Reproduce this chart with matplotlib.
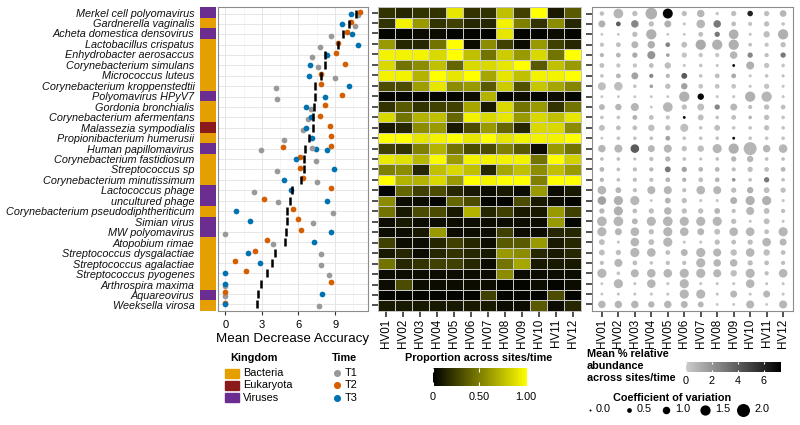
import numpy as np
import matplotlib
matplotlib.use('Agg')
import matplotlib.pyplot as plt
from matplotlib.colors import LinearSegmentedColormap, ListedColormap
from matplotlib.patches import Rectangle

plt.rcParams['font.family'] = ['Liberation Sans', 'DejaVu Sans']

# species ordered by importance (top to bottom)
species = ['Merkel cell polyomavirus', 'Gardnerella vaginalis', 'Acheta domestica densovirus',
           'Lactobacillus crispatus', 'Enhydrobacter aerosaccus', 'Corynebacterium simulans',
           'Micrococcus luteus', 'Corynebacterium kroppenstedtii', 'Polyomavirus HPyV7',
           'Gordonia bronchialis', 'Corynebacterium afermentans', 'Malassezia sympodialis',
           'Propionibacterium humerusii', 'Human papillomavirus', 'Corynebacterium fastidiosum',
           'Streptococcus sp', 'Corynebacterium minutissimum', 'Lactococcus phage',
           'uncultured phage', 'Corynebacterium pseudodiphtheriticum', 'Simian virus',
           'MW polyomavirus', 'Atopobium rimae', 'Streptococcus dysgalactiae',
           'Streptococcus agalactiae', 'Streptococcus pyogenes', 'Arthrospira maxima',
           'Aquareovirus', 'Weeksella virosa']
kingdom = ['Viruses', 'Bacteria', 'Viruses', 'Bacteria', 'Bacteria', 'Bacteria', 'Bacteria',
           'Bacteria', 'Viruses', 'Bacteria', 'Bacteria', 'Eukaryota', 'Bacteria', 'Viruses',
           'Bacteria', 'Bacteria', 'Bacteria', 'Viruses', 'Viruses', 'Bacteria', 'Viruses',
           'Viruses', 'Bacteria', 'Bacteria', 'Bacteria', 'Bacteria', 'Bacteria', 'Viruses',
           'Bacteria']

# mean decrease accuracy per time point
mda_t1 = [10.85, 10.6, 8.66, 7.76, 7.13, 7.62, 8.99, 4.13, 4.24, 7.0, 6.78, 6.34, 4.8, 2.95,
          7.46, 4.2, 7.55, 2.32, 4.32, 8.83, 7.16, 0.0, 3.91, 7.87, 7.87, 8.52, 0.0, 0.0, 7.7]
mda_t2 = [11.07, 10.3, 9.97, 9.2, 9.07, 9.84, 7.81, 7.81, 9.56, 8.14, 7.79, 8.55, 8.7, 4.7,
          6.15, 6.13, 6.37, 8.69, 3.14, 5.52, 5.96, 6.23, 3.44, 2.4, 0.76, 1.72, 8.69, 0.0, 0.0]
mda_t3 = [10.3, 9.56, 10.36, 10.87, 8.36, 6.94, 6.86, 10.14, 8.2, 6.64, 7.02, 6.61, 7.1, 7.4,
          5.77, 8.92, 4.78, 5.38, 8.36, 0.9, 2.02, 8.63, 7.27, 1.89, 2.81, 0.0, 0.0, 7.95, 0.0]
# Human papillomavirus has a second set of values
extra_row = 'Human papillomavirus'
extra_t1 = 7.1
extra_t2 = 8.63
extra_t3 = 8.36

donors = ['HV%02d' % i for i in range(1, 13)]

# proportion across sites/time (heatmap)
proportion = [
    [0.2, 0.15, 0.2, 0.2, 0.9, 0.2, 0.2, 0.75, 0.25, 1.0, 0.1, 0.35],
    [0.2, 0.95, 0.6, 0.2, 0.25, 0.15, 0.15, 0.95, 0.5, 0.2, 0.55, 0.15],
    [0.02, 0.02, 0.05, 0.05, 0.02, 0.02, 0.02, 0.9, 0.02, 0.02, 0.05, 0.02],
    [0.6, 0.15, 0.15, 0.45, 1.0, 0.05, 0.55, 0.25, 0.05, 0.6, 0.25, 0.15],
    [0.95, 0.95, 0.95, 0.85, 1.0, 0.75, 0.45, 0.8, 0.6, 0.85, 0.45, 1.0],
    [0.85, 0.45, 0.55, 0.75, 0.4, 0.85, 0.85, 0.9, 1.0, 0.35, 0.75, 0.6],
    [0.95, 0.95, 0.7, 1.0, 0.9, 1.0, 0.65, 0.9, 0.75, 0.95, 0.95, 1.0],
    [0.3, 0.3, 0.62, 0.9, 0.55, 0.6, 0.35, 0.8, 0.32, 0.78, 0.65, 0.52],
    [0.02, 0.02, 0.02, 0.02, 0.02, 0.05, 0.7, 0.02, 0.05, 0.02, 0.05, 0.02],
    [0.2, 0.35, 0.2, 0.25, 0.25, 0.65, 0.1, 0.85, 0.45, 0.6, 0.2, 0.45],
    [0.85, 0.45, 0.7, 0.75, 0.4, 0.95, 0.85, 0.9, 0.6, 0.85, 0.75, 0.9],
    [0.1, 0.15, 0.55, 0.6, 0.1, 0.3, 0.6, 0.4, 0.15, 0.85, 0.85, 0.55],
    [1.0, 1.0, 0.9, 0.95, 1.0, 0.9, 1.0, 0.9, 0.95, 0.95, 0.95, 1.0],
    [0.25, 0.2, 0.5, 0.7, 0.45, 0.3, 0.3, 0.5, 0.35, 0.05, 0.6, 0.45],
    [0.92, 0.88, 0.72, 0.98, 0.6, 0.95, 0.95, 0.95, 0.95, 0.45, 1.0, 0.82],
    [0.5, 0.55, 0.15, 0.75, 0.85, 0.75, 0.15, 0.65, 0.75, 0.55, 0.75, 0.6],
    [1.0, 0.7, 0.7, 0.85, 0.6, 1.0, 0.95, 1.0, 1.0, 0.5, 1.0, 1.0],
    [0.02, 0.4, 0.25, 0.3, 0.15, 0.1, 0.05, 0.1, 0.05, 0.6, 0.05, 0.1],
    [0.55, 0.05, 0.05, 0.02, 0.4, 0.3, 0.02, 0.02, 0.3, 0.1, 0.05, 0.02],
    [0.45, 0.1, 0.3, 0.3, 0.1, 0.7, 0.15, 0.25, 0.1, 0.1, 0.6, 0.25],
    [0.05, 0.1, 0.05, 0.05, 0.05, 0.05, 0.05, 0.05, 0.05, 0.05, 0.6, 0.02],
    [0.05, 0.05, 0.1, 0.6, 0.05, 0.05, 0.05, 0.25, 0.05, 0.05, 0.15, 0.15],
    [0.25, 0.05, 0.05, 0.15, 0.25, 0.15, 0.05, 0.35, 0.35, 0.6, 0.1, 0.15],
    [0.1, 0.15, 0.05, 0.15, 0.2, 0.15, 0.1, 0.6, 0.55, 0.15, 0.1, 0.15],
    [0.45, 0.15, 0.2, 0.25, 0.25, 0.15, 0.05, 0.45, 0.65, 0.1, 0.1, 0.1],
    [0.05, 0.05, 0.05, 0.05, 0.05, 0.05, 0.05, 0.55, 0.05, 0.05, 0.05, 0.05],
    [0.05, 0.3, 0.05, 0.05, 0.05, 0.05, 0.05, 0.02, 0.02, 0.05, 0.02, 0.05],
    [0.02, 0.02, 0.02, 0.02, 0.02, 0.02, 0.25, 0.02, 0.02, 0.02, 0.3, 0.02],
    [0.1, 0.1, 0.1, 0.1, 0.1, 0.1, 0.1, 0.05, 0.05, 0.35, 0.05, 0.15],
]

# mean % relative abundance (bubble colour)
abundance = [
    [0.5, 0.8, 0.5, 1.0, 7.0, 0.5, 0.8, 0.3, 0.5, 6.0, 0.5, 0.8],
    [1.0, 4.0, 2.5, 0.5, 1.0, 0.3, 0.8, 3.0, 0.5, 0.3, 0.5, 0.3],
    [0.3, 0.3, 0.5, 1.0, 0.3, 0.3, 0.5, 3.0, 1.0, 0.3, 0.5, 1.0],
    [0.3, 0.5, 0.8, 1.0, 2.5, 0.5, 1.2, 1.0, 1.0, 0.5, 0.3, 0.5],
    [0.8, 0.8, 1.2, 2.0, 1.5, 0.3, 0.3, 0.3, 0.8, 2.5, 0.5, 3.0],
    [0.5, 0.3, 0.3, 0.5, 0.5, 0.3, 0.3, 0.3, 7.0, 1.0, 0.3, 0.3],
    [0.3, 0.8, 1.5, 2.5, 0.8, 4.0, 0.3, 0.5, 1.2, 0.3, 0.3, 0.5],
    [0.5, 0.5, 0.3, 1.5, 0.5, 1.5, 0.3, 0.3, 0.3, 0.3, 0.3, 0.3],
    [0.3, 0.3, 0.3, 0.3, 0.3, 1.0, 7.0, 0.3, 0.3, 1.0, 0.8, 0.3],
    [0.8, 0.8, 0.8, 0.3, 0.8, 0.5, 0.5, 2.5, 0.8, 0.5, 0.5, 0.5],
    [0.3, 0.3, 1.0, 0.5, 0.3, 7.0, 0.5, 0.3, 0.5, 0.8, 0.5, 0.3],
    [0.5, 0.5, 0.5, 0.5, 0.5, 0.5, 0.3, 0.5, 0.3, 0.3, 0.5, 0.3],
    [0.3, 0.3, 0.3, 0.5, 1.5, 0.3, 0.3, 0.3, 7.0, 0.3, 0.3, 0.3],
    [0.8, 0.8, 4.0, 0.8, 0.8, 0.5, 0.5, 0.8, 1.0, 0.8, 0.8, 0.8],
    [0.5, 0.5, 0.5, 0.5, 0.8, 0.5, 0.5, 0.5, 0.8, 0.8, 0.5, 0.5],
    [0.8, 0.5, 0.5, 0.8, 3.0, 1.5, 0.8, 0.8, 0.5, 0.5, 0.5, 0.8],
    [0.8, 0.5, 0.5, 0.5, 0.8, 1.0, 0.5, 0.8, 2.0, 0.5, 3.0, 0.5],
    [0.8, 0.8, 0.5, 0.8, 0.8, 0.5, 0.8, 0.8, 0.5, 1.0, 0.5, 0.5],
    [1.5, 1.0, 0.8, 0.3, 0.8, 0.5, 0.3, 0.3, 1.0, 1.0, 1.0, 0.3],
    [0.8, 1.0, 0.5, 0.5, 0.8, 0.5, 0.5, 0.8, 0.5, 0.8, 0.5, 0.5],
    [0.8, 0.8, 0.8, 0.8, 0.8, 0.8, 0.8, 0.8, 0.5, 0.3, 0.5, 0.3],
    [0.8, 0.8, 0.8, 0.5, 0.8, 0.8, 0.8, 0.5, 0.8, 0.8, 0.5, 0.8],
    [0.5, 0.3, 0.8, 0.5, 0.8, 0.3, 0.3, 0.5, 0.5, 0.5, 0.8, 0.8],
    [0.5, 0.5, 0.8, 0.8, 0.5, 0.8, 0.8, 0.8, 0.5, 0.8, 0.5, 0.5],
    [0.5, 0.8, 0.5, 0.3, 0.5, 0.5, 0.8, 0.8, 0.8, 0.5, 0.5, 0.5],
    [0.8, 0.3, 0.8, 0.8, 0.8, 0.8, 0.8, 0.8, 0.5, 0.8, 0.5, 0.8],
    [0.3, 0.8, 0.3, 0.8, 0.3, 0.8, 0.3, 0.3, 0.3, 0.8, 0.3, 0.3],
    [0.3, 0.3, 0.3, 0.3, 0.3, 0.8, 0.8, 0.3, 0.8, 0.3, 0.8, 0.3],
    [0.8, 0.8, 0.8, 0.8, 0.8, 0.8, 0.8, 0.3, 0.3, 0.8, 0.3, 0.8],
]

# coefficient of variation (bubble size)
cv = [
    [0.45, 1.4, 0.6, 1.75, 1.45, 0.6, 1.0, 0.25, 0.6, 0.65, 0.6, 0.85],
    [0.9, 0.5, 1.0, 0.6, 0.9, 0.2, 1.2, 1.0, 0.5, 0.4, 0.6, 0.3],
    [0.15, 0.15, 0.6, 1.5, 0.15, 0.15, 0.5, 0.6, 1.4, 0.2, 0.8, 1.5],
    [0.4, 0.5, 0.9, 1.0, 0.5, 0.7, 1.5, 1.5, 1.5, 0.3, 0.4, 0.6],
    [0.4, 0.5, 0.6, 1.1, 0.3, 0.6, 0.4, 0.4, 1.0, 0.6, 0.4, 0.6],
    [0.5, 0.4, 0.4, 0.5, 0.8, 0.2, 0.3, 0.2, 0.15, 1.1, 0.6, 0.3],
    [0.3, 0.5, 0.9, 0.4, 0.4, 0.7, 0.3, 0.5, 0.5, 0.2, 0.3, 0.2],
    [1.1, 1.2, 0.3, 0.3, 0.6, 0.8, 0.5, 0.5, 0.5, 0.2, 0.6, 0.2],
    [0.15, 0.15, 0.15, 0.15, 0.15, 1.5, 0.8, 0.2, 0.2, 1.5, 1.5, 0.2],
    [0.7, 0.8, 1.1, 0.15, 1.4, 0.6, 0.9, 0.6, 0.9, 0.4, 0.6, 0.5],
    [0.3, 0.3, 0.5, 0.5, 0.4, 0.15, 0.7, 0.3, 0.5, 0.3, 0.6, 0.3],
    [0.7, 0.5, 0.5, 0.8, 0.6, 1.1, 0.3, 0.7, 0.3, 0.3, 0.6, 0.3],
    [0.15, 0.3, 0.3, 0.3, 0.5, 0.3, 0.3, 0.3, 0.15, 0.3, 0.3, 0.3],
    [1.0, 1.1, 1.2, 0.9, 1.1, 0.6, 0.8, 1.3, 1.5, 2.0, 1.0, 1.2],
    [0.3, 0.3, 0.2, 0.4, 0.6, 0.3, 0.2, 0.3, 0.6, 0.8, 0.3, 0.3],
    [0.5, 0.3, 0.4, 0.4, 0.7, 0.6, 0.5, 0.5, 0.4, 0.6, 0.5, 0.5],
    [0.4, 0.3, 0.4, 0.4, 0.5, 0.4, 0.5, 0.5, 0.3, 0.3, 0.6, 0.3],
    [1.2, 0.7, 0.4, 1.1, 1.1, 0.4, 1.2, 1.1, 0.6, 0.8, 0.7, 0.6],
    [1.2, 1.3, 1.3, 0.15, 0.7, 0.6, 0.2, 0.2, 0.9, 1.3, 1.3, 0.2],
    [0.6, 1.3, 0.5, 0.6, 1.0, 0.6, 0.6, 0.7, 0.4, 1.1, 0.7, 0.4],
    [1.4, 1.4, 0.7, 1.3, 1.4, 1.3, 1.3, 1.3, 0.6, 0.2, 0.7, 0.2],
    [1.3, 0.9, 1.2, 0.6, 1.3, 1.2, 0.9, 0.7, 1.2, 1.2, 0.5, 1.3],
    [0.7, 0.2, 1.2, 0.7, 1.3, 0.2, 0.2, 0.6, 0.5, 0.6, 1.2, 0.9],
    [0.7, 0.6, 1.3, 1.2, 0.5, 0.9, 1.3, 1.1, 0.8, 1.2, 0.8, 0.5],
    [0.4, 1.1, 0.5, 0.3, 0.4, 0.4, 1.3, 1.0, 1.0, 0.6, 0.5, 0.4],
    [1.3, 0.3, 1.1, 1.2, 1.2, 1.3, 1.3, 1.1, 0.8, 1.3, 0.4, 1.2],
    [0.15, 1.3, 0.2, 1.2, 0.2, 1.3, 0.2, 0.2, 0.2, 1.2, 0.2, 0.2],
    [0.15, 0.2, 0.2, 0.2, 0.2, 1.3, 1.3, 0.2, 0.9, 0.2, 0.9, 0.2],
    [1.0, 1.0, 1.0, 0.8, 1.0, 0.9, 0.7, 0.15, 0.15, 1.1, 0.15, 1.1],
]

kingdoms = ['Bacteria', 'Eukaryota', 'Viruses']
kingdom_colors = ['#E69F00', '#8B1A1A', '#6B2D8F']
times = ['T1', 'T2', 'T3']
time_colors = ['#999999', '#D55E00', '#0072B2']
cv_breaks = [0.0, 0.5, 1.0, 1.5, 2.0]

W, H = 800, 425


def box(x0, y0, x1, y1):
    # pixel rectangle -> figure fraction
    return [x0 / W, 1 - y1 / H, (x1 - x0) / W, (y1 - y0) / H]


def cv_to_s(v):
    # bubble diameter in px grows linearly with CV
    d = 2 + 5.5 * np.asarray(v)
    return (d * 0.72) ** 2


n = len(species)
rows = np.arange(n)
fig = plt.figure(figsize=(8, 4.25), dpi=100)

# kingdom strip with species labels
ax_k = fig.add_axes(box(200, 7.3, 216, 310.7))
codes = np.array([kingdoms.index(k) for k in kingdom])[:, None]
ax_k.pcolormesh([0, 1], np.arange(n + 1) - 0.5, codes, cmap=ListedColormap(kingdom_colors),
                vmin=-0.5, vmax=2.5)
ax_k.set_ylim(n - 0.5, -0.5)
ax_k.set_xticks([])
ax_k.set_yticks(rows)
ax_k.set_yticklabels(species, fontstyle='italic', fontsize=7.8, color='#111111')
ax_k.tick_params(axis='y', length=0, pad=4)
for s in ax_k.spines.values():
    s.set_visible(False)

# dot plot of mean decrease accuracy
ax_d = fig.add_axes(box(218, 7.3, 368, 310.7))
offsets = [0.18, -0.18, 0.0]
for vals, col, off in zip([mda_t1, mda_t2, mda_t3], time_colors, offsets):
    ax_d.scatter(vals, rows + off, s=17, color=col, linewidths=0, zorder=3)
ei = species.index(extra_row)
for val, col, off in zip([extra_t1, extra_t2, extra_t3], time_colors, [-0.1, -0.28, 0.12]):
    ax_d.scatter([val], [ei + off], s=17, color=col, linewidths=0, zorder=3)
means = np.array([np.mean([a, b, c]) for a, b, c in zip(mda_t1, mda_t2, mda_t3)])
means[ei] = np.mean([mda_t1[ei], mda_t2[ei], mda_t3[ei], extra_t1, extra_t2, extra_t3])
ax_d.scatter(means, rows, marker='|', s=34, color='black', linewidths=1.8, zorder=4)
ax_d.set_xlim(-0.6, 11.7)
ax_d.set_ylim(n - 0.4, -0.6)
ax_d.set_xticks([0, 3, 6, 9])
ax_d.set_xticks([1.5, 4.5, 7.5, 10.5], minor=True)
ax_d.set_yticks(rows)
ax_d.set_yticklabels([])
ax_d.tick_params(axis='y', length=0)
ax_d.tick_params(axis='x', which='major', length=3, labelsize=8, color='#333333', pad=4)
ax_d.tick_params(axis='x', which='minor', length=0)
ax_d.grid(True, which='major', color='#E6E6E6', lw=0.7)
ax_d.grid(True, which='minor', axis='x', color='#F2F2F2', lw=0.5)
ax_d.set_axisbelow(True)
ax_d.set_xlabel('Mean Decrease Accuracy', fontsize=9.6, labelpad=2)
for s in ax_d.spines.values():
    s.set_color('#8C8C8C')
    s.set_linewidth(0.8)

# heatmap of proportion across sites/time
ax_h = fig.add_axes(box(378, 7.3, 581, 310.7))
yel = LinearSegmentedColormap.from_list('blk_yel', ['#000000', '#FFFF00'])
ax_h.pcolormesh(np.arange(13), np.arange(n + 1), np.array(proportion), cmap=yel, vmin=0, vmax=1,
                edgecolors='#C8C8C8', linewidth=0.5)
ax_h.set_xlim(0, 12)
ax_h.set_ylim(n, 0)
ax_h.set_xticks(np.arange(12) + 0.5)
ax_h.set_xticklabels(donors, rotation=90, fontsize=8.4)
ax_h.set_yticks(rows + 0.5)
ax_h.set_yticklabels([])
ax_h.tick_params(axis='both', length=4, width=1.2, color='#333333', pad=2)
for s in ax_h.spines.values():
    s.set_color('#BBBBBB')
    s.set_linewidth(0.6)

# bubble plot of abundance and CV
ax_b = fig.add_axes(box(592, 7.3, 793, 310.7))
gry = LinearSegmentedColormap.from_list('gry', ['#CCCCCC', '#000000'])
xx, yy = np.meshgrid(np.arange(1, 13), rows)
ax_b.scatter(xx.ravel(), yy.ravel(), s=cv_to_s(np.array(cv).ravel()),
             c=np.array(abundance).ravel(), cmap=gry, vmin=0, vmax=7.25, linewidths=0)
ax_b.set_xlim(0.4, 12.6)
ax_b.set_ylim(n - 0.4, -0.6)
ax_b.set_xticks(np.arange(1, 13))
ax_b.set_xticklabels(donors, rotation=90, fontsize=8.4)
ax_b.set_yticks(rows)
ax_b.set_yticklabels([])
ax_b.tick_params(axis='both', length=4, width=1.2, color='#333333', pad=2)
for s in ax_b.spines.values():
    s.set_color('#8C8C8C')
    s.set_linewidth(0.8)

# legends drawn in a pixel-space overlay
ov = fig.add_axes([0, 0, 1, 1])
ov.set_xlim(0, W)
ov.set_ylim(H, 0)
ov.axis('off')
ov.patch.set_alpha(0)

ov.text(230, 358, 'Kingdom', fontweight='bold', fontsize=7.8, va='center')
for i, (k, c) in enumerate(zip(kingdoms, kingdom_colors)):
    y = 373 + i * 12.3
    ov.add_patch(Rectangle((225, y - 4.5), 13.5, 9, color=c))
    ov.text(243, y, k, va='center', fontsize=7.8)

ov.text(332, 358, 'Time', fontweight='bold', fontsize=7.8, va='center')
for i, (t, c) in enumerate(zip(times, time_colors)):
    y = 373 + i * 12.3
    ov.scatter([337], [y], s=26, color=c, linewidths=0)
    ov.text(345, y, t, va='center', fontsize=7.8)

ov.text(479, 358, 'Proportion across sites/time', fontweight='bold', fontsize=7.8,
        ha='center', va='center')
cb1 = fig.add_axes(box(432.7, 368.3, 526, 386))
cb1.imshow(np.linspace(0, 1, 256)[None, :], cmap=yel, aspect='auto', extent=[0, 1, 0, 1])
cb1.vlines([0, 0.5, 1], 0, 0.2, color='white', lw=0.8)
cb1.vlines([0, 0.5, 1], 0.8, 1, color='white', lw=0.8)
cb1.set_xlim(0, 1)
cb1.set_xticks([0, 0.5, 1])
cb1.set_xticklabels(['0', '0.50', '1.00'], fontsize=7.8)
cb1.set_yticks([])
cb1.tick_params(axis='x', length=0, pad=4)
for s in cb1.spines.values():
    s.set_visible(False)

ov.text(587, 366, 'Mean % relative\nabundance\nacross sites/time', fontweight='bold',
        fontsize=7.8, va='center', ha='left', linespacing=1.25)
cb2 = fig.add_axes(box(686, 361.7, 780, 371.7))
cb2.imshow(np.linspace(0, 7.25, 256)[None, :], cmap=gry, aspect='auto', extent=[0, 7.25, 0, 1],
           vmin=0, vmax=7.25)
cb2.vlines([0, 2, 4, 6], 0, 0.2, color='white', lw=0.8)
cb2.vlines([0, 2, 4, 6], 0.8, 1, color='white', lw=0.8)
cb2.set_xlim(0, 7.25)
cb2.set_xticks([0, 2, 4, 6])
cb2.set_xticklabels(['0', '2', '4', '6'], fontsize=7.8)
cb2.set_yticks([])
cb2.tick_params(axis='x', length=0, pad=3)
for s in cb2.spines.values():
    s.set_visible(False)

ov.text(672, 398, 'Coefficient of variation', fontweight='bold', fontsize=7.8,
        ha='center', va='center')
cv_x = [590, 629, 666, 705, 743]
for x, v in zip(cv_x, cv_breaks):
    ov.scatter([x], [409.5], s=cv_to_s(v), color='black', linewidths=0)
    ov.text(x + (2 + 5.5 * v) / 2 + 5, 409.5, '%.1f' % v, va='center', fontsize=7.8)

fig.savefig('out.png', dpi=100)
